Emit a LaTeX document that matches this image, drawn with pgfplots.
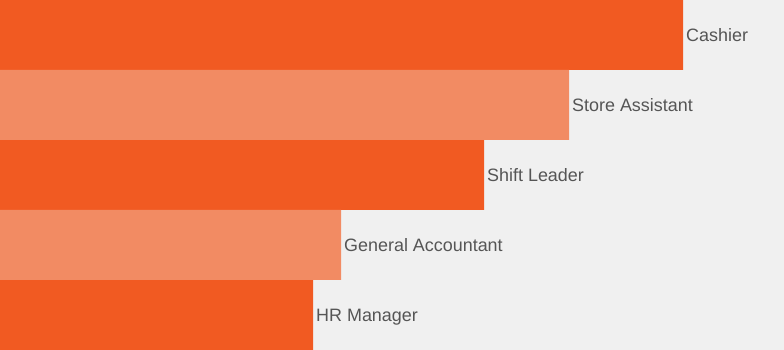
\documentclass[border=0pt]{standalone}
\usepackage{pgfplots}
\pgfplotsset{compat=1.18}
\usepackage{fontspec}
\setmainfont{Liberation Sans}
\definecolor{dark}{HTML}{F15A22}
\definecolor{light}{HTML}{F28B63}
\definecolor{bgc}{HTML}{F0F0F0}
\definecolor{txt}{HTML}{555555}
\begin{document}
\begin{tikzpicture}
\begin{axis}[
  scale only axis,
  width=784bp, height=350bp,
  xmin=0, xmax=784, ymin=0, ymax=5,
  axis line style={draw=none},
  ticks=none,
  axis background/.style={fill=bgc},
  xbar, bar width=70bp, bar shift=0pt,
  point meta=explicit symbolic,
  nodes near coords,
  nodes near coords style={anchor=base west, inner sep=0pt, xshift=3bp, yshift=-6.5bp, text=txt, font=\fontsize{18}{21}\selectfont},
  clip=false,
]
\addplot[fill=dark, draw=none] table[meta=label, col sep=comma] {
x,y,label
683,4.5,Cashier
484,2.5,Shift Leader
313,0.5,HR Manager
};
\addplot[fill=light, draw=none] table[meta=label, col sep=comma] {
x,y,label
569,3.5,Store Assistant
341,1.5,General Accountant
};
\end{axis}
\end{tikzpicture}
\end{document}
